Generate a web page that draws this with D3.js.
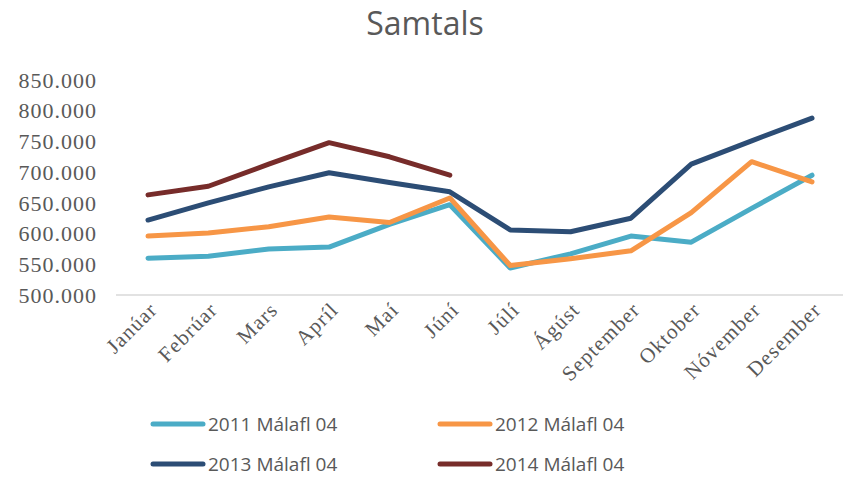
<!DOCTYPE html>
<html>
<head>
<meta charset="utf-8">
<script src="https://cdn.jsdelivr.net/npm/d3@7"></script>
<style>
  body { margin: 0; background: #fff; }
</style>
</head>
<body>
<div class="chart"></div>
<script>
const months = ['Janúar', 'Febrúar', 'Mars', 'Apríl', 'Maí', 'Júní', 'Júlí', 'Ágúst', 'September', 'Oktober', 'Nóvember', 'Desember'];
const yTicks = [500000, 550000, 600000, 650000, 700000, 750000, 800000, 850000];

const v2011 = [560000, 563000, 575000, 578000, 615000, 647000, 544000, 567000, 596000, 586000, 641000, 695000];
const v2012 = [596000, 601000, 611000, 627000, 618000, 658000, 548000, 559000, 572000, 634000, 717000, 684000];
const v2013 = [622000, 650000, 676000, 699000, 683000, 668000, 606000, 603000, 625000, 713000, 751000, 788000];
const v2014 = [663000, 677000, 713000, 748000, 725000, 695000];

const seriesNames = ['2011 Málafl 04', '2012 Málafl 04', '2013 Málafl 04', '2014 Málafl 04'];
const colors = ['#4bacc6', '#f79646', '#2c4d75', '#772c2a'];

const series = [v2011, v2012, v2013, v2014].map((vals, i) => ({
  name: seriesNames[i],
  color: colors[i],
  values: vals.map((v, j) => ({ month: months[j], value: v }))
}));

const width = 843, height = 478;
const svg = d3.select('.chart').append('svg')
  .attr('width', width)
  .attr('height', height);

const x = d3.scalePoint()
  .domain(months)
  .range([148, 812]);

const y = d3.scaleLinear()
  .domain([500000, 850000])
  .range([295, 80]);

// title
svg.append('text')
  .attr('x', 425)
  .attr('y', 35)
  .attr('text-anchor', 'middle')
  .style('font-family', "'Open Sans', sans-serif")
  .style('font-size', '32px')
  .attr('fill', '#595959')
  .text('Samtals');

// y axis labels
const fmt = v => d3.format(',')(v).replace(/,/g, '.');
svg.append('g')
  .selectAll('text')
  .data(yTicks)
  .join('text')
  .attr('x', 97)
  .attr('y', d => y(d))
  .attr('dy', '0.35em')
  .attr('text-anchor', 'end')
  .style('font-family', "'Liberation Serif', 'Times New Roman', serif")
  .style('font-size', '22px')
  .style('letter-spacing', '1px')
  .attr('fill', '#595959')
  .text(fmt);

// x axis
const xAxis = svg.append('g')
  .attr('transform', `translate(0,${y(500000)})`)
  .call(d3.axisBottom(x).tickSize(0).tickPadding(0));
xAxis.select('.domain').remove();
xAxis.append('line')
  .attr('x1', 116).attr('x2', 843)
  .attr('stroke', '#d9d9d9')
  .attr('stroke-width', 1.5);
xAxis.selectAll('.tick text')
  .style('font-family', "'Liberation Serif', 'Times New Roman', serif")
  .style('font-size', '21px')
  .style('letter-spacing', '1.2px')
  .attr('fill', '#595959')
  .attr('text-anchor', 'end')
  .attr('dy', null)
  .attr('transform', 'translate(10,16) rotate(-45)');

// lines
const line = d3.line()
  .x(d => x(d.month))
  .y(d => y(d.value));

svg.append('g')
  .selectAll('path')
  .data(series)
  .join('path')
  .attr('d', d => line(d.values))
  .attr('fill', 'none')
  .attr('stroke', d => d.color)
  .attr('stroke-width', 5)
  .attr('stroke-linejoin', 'round')
  .attr('stroke-linecap', 'round');

// legend
const legend = svg.append('g')
  .selectAll('g')
  .data(series)
  .join('g')
  .attr('transform', (d, i) => `translate(${i % 2 === 0 ? 153 : 440},${i < 2 ? 424 : 464})`);
legend.append('line')
  .attr('x1', 0).attr('x2', 50)
  .attr('stroke', d => d.color)
  .attr('stroke-width', 5)
  .attr('stroke-linecap', 'round');
legend.append('text')
  .attr('x', 55)
  .attr('dy', '0.35em')
  .style('font-family', "'Open Sans', sans-serif")
  .style('font-size', '19px')
  .attr('fill', '#595959')
  .text(d => d.name);
</script>
</body>
</html>
